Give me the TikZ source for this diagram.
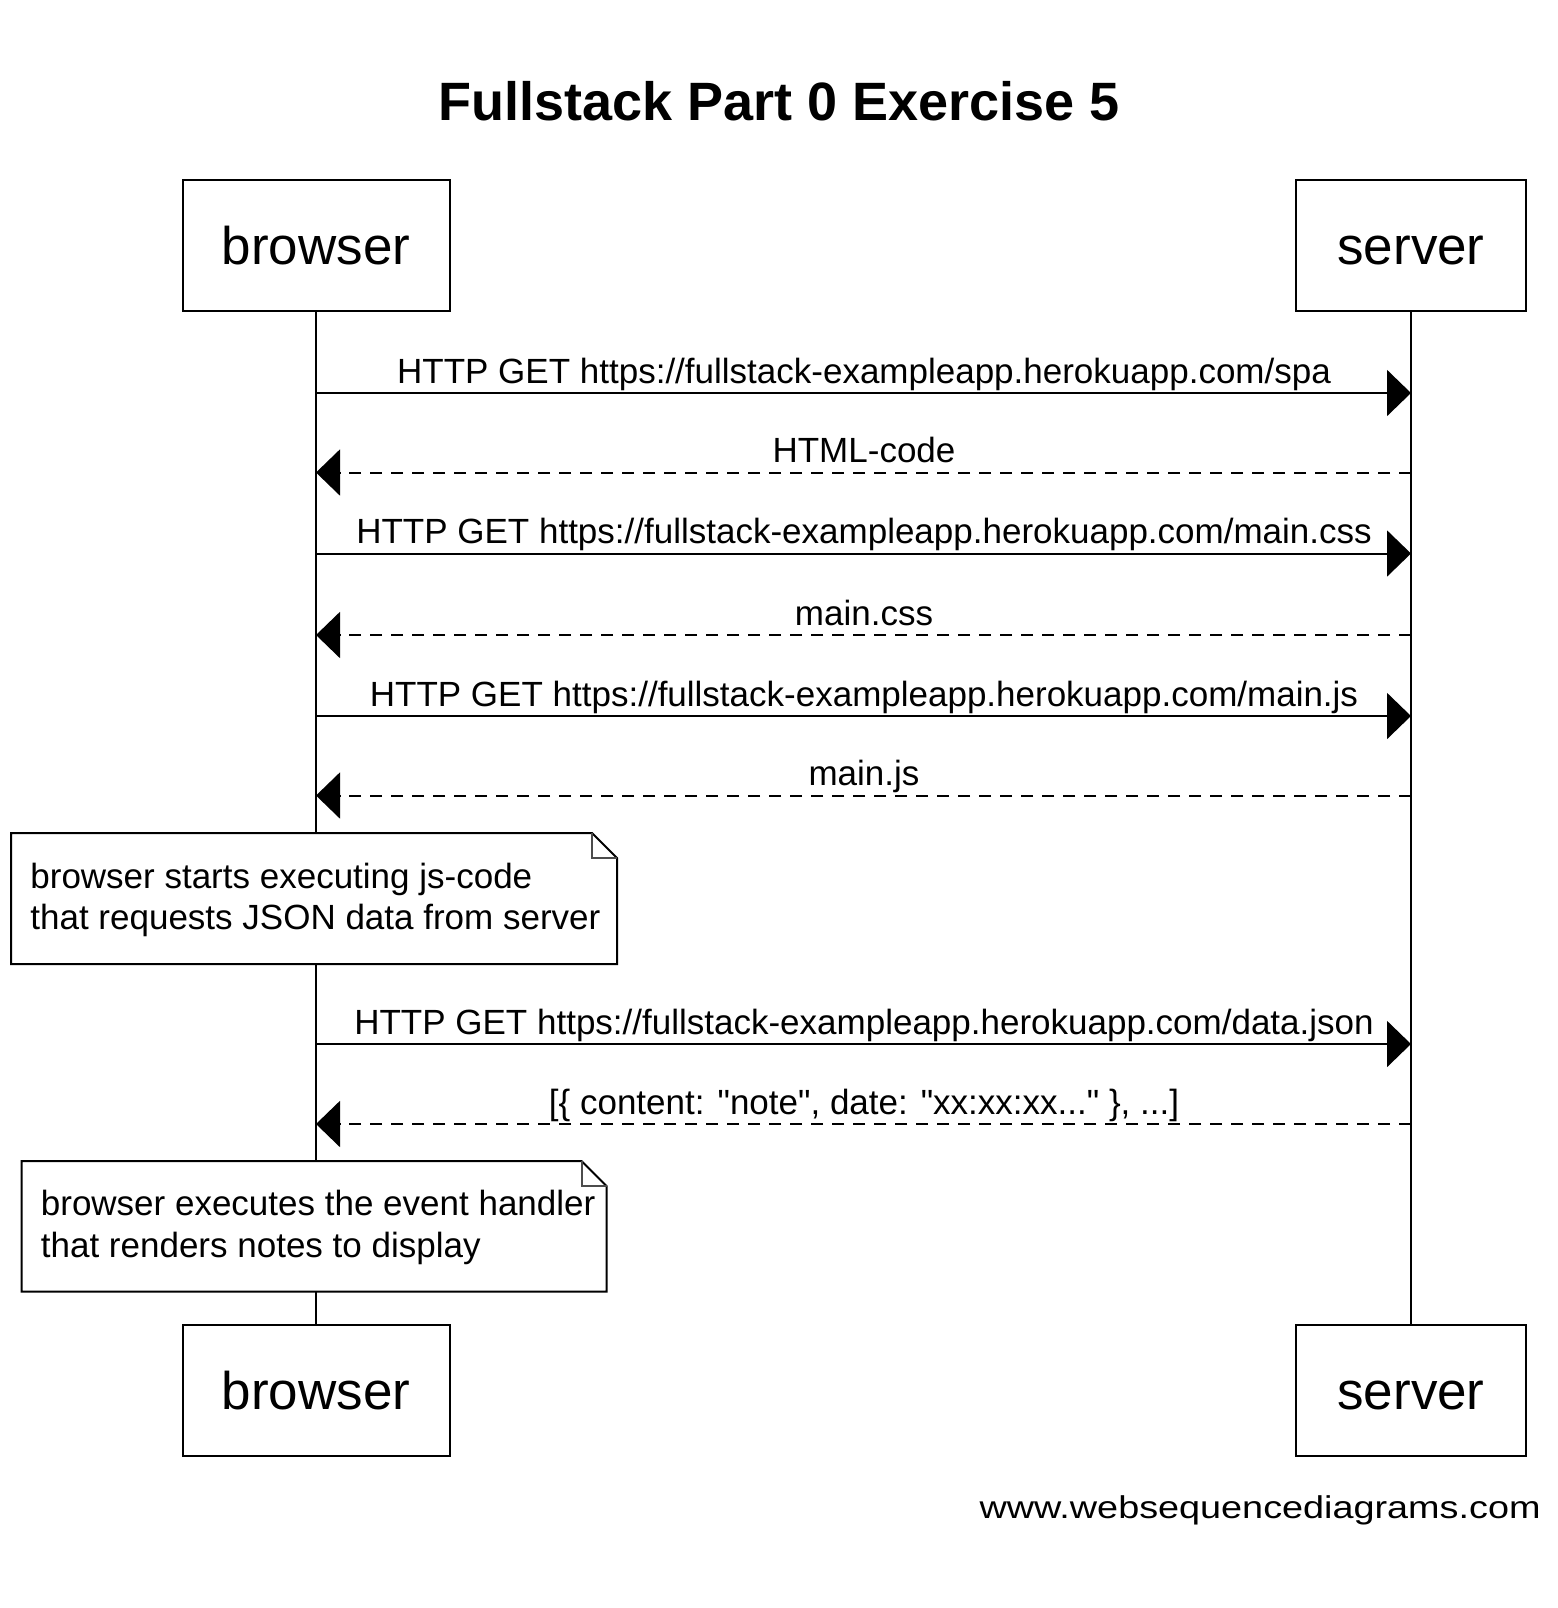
\documentclass[tikz,border=0pt]{standalone}
\usepackage{fontspec}
\setmainfont{Liberation Sans}
\newfontfamily\rawfont[Ligatures=TeXOff]{Liberation Sans}
\newfontfamily\footfont[FakeStretch=1.2]{Liberation Sans}
\usetikzlibrary{arrows.meta}
\begin{document}
\begin{tikzpicture}[x=0.5pt,y=-0.5pt,
  actor/.style={draw, line width=1pt, fill=white, inner sep=0pt,
    minimum height=65.5pt, text height=18.5pt, text depth=0pt,
    font=\fontsize{26.5}{30}\selectfont},
  lifeline/.style={line width=1pt},
  msglabel/.style={anchor=base, inner sep=0pt, font=\fontsize{17.5}{20}\selectfont},
  notetext/.style={anchor=base west, inner sep=0pt, font=\fontsize{17.5}{20}\selectfont},
  notebox/.style={draw, line width=1pt, fill=white, line join=miter},
  call/.style={line width=1pt, -{Triangle[length=12pt,width=23pt]}},
  reply/.style={line width=1pt, dash pattern=on 6pt off 4.5pt, -{Triangle[length=12pt,width=23pt]}},
]
\useasboundingbox (0,0) rectangle (1558,1608);

% title
\node[anchor=base, inner sep=0pt, font=\fontsize{27}{30}\selectfont\bfseries] (title) at (779,120) {Fullstack Part 0 Exercise 5};

% actors
\node[actor, minimum width=133.5pt] (bt) at (316,245.5) {browser};
\node[actor, minimum width=115pt] (st) at (1411,245.5) {server};
\node[actor, minimum width=133.5pt] (bb) at (316,1390.5) {browser};
\node[actor, minimum width=115pt] (sb) at (1411,1390.5) {server};

% lifelines
\draw[lifeline] (bt.south) -- (bb.north);
\draw[lifeline] (st.south) -- (sb.north);

% message anchor points
\foreach \i/\y in {1/393,2/472.5,3/553.5,4/635,5/716,6/795.5,7/1044,8/1124}{
  \coordinate (b\i) at (316,\y);
  \coordinate (s\i) at (1411,\y);
}

\draw[call] (b1) -- (s1);
\node[msglabel] (l1) at (864,383) {HTTP GET https://fullstack-exampleapp.herokuapp.com/spa};
\draw[reply] (s2) -- (b2);
\node[msglabel] (l2) at (864,462.5) {HTML-code};
\draw[call] (b3) -- (s3);
\node[msglabel] (l3) at (864,543.5) {HTTP GET https://fullstack-exampleapp.herokuapp.com/main.css};
\draw[reply] (s4) -- (b4);
\node[msglabel] (l4) at (864,625) {main.css};
\draw[call] (b5) -- (s5);
\node[msglabel] (l5) at (864,706) {HTTP GET https://fullstack-exampleapp.herokuapp.com/main.js};
\draw[reply] (s6) -- (b6);
\node[msglabel] (l6) at (864,785.5) {main.js};

% note 1
\path[notebox] (11,833) -- (592,833) -- (617,858) -- (617,964) -- (11,964) -- cycle;
\draw[line width=1pt, draw=black!70] (592,833) -- (592,858) -- (617,858);
\node[notetext] (n1a) at (30,888) {browser starts executing js-code};
\node[notetext] (n1b) at (30,929) {that requests JSON data from server};

\draw[call] (b7) -- (s7);
\node[msglabel] (l7) at (864,1034) {HTTP GET https://fullstack-exampleapp.herokuapp.com/data.json};
\draw[reply] (s8) -- (b8);
\node[msglabel, font=\rawfont\fontsize{17.5}{20}\selectfont] (l8) at (864,1114) {[\{ content: "note", date: "xx:xx:xx..." \}, ...]};

% note 2
\path[notebox] (21.5,1161) -- (581.5,1161) -- (606.5,1186) -- (606.5,1291.5) -- (21.5,1291.5) -- cycle;
\draw[line width=1pt, draw=black!70] (581.5,1161) -- (581.5,1186) -- (606.5,1186);
\node[notetext] (n2a) at (40.5,1215) {browser executes the event handler};
\node[notetext] (n2b) at (40.5,1257) {that renders notes to display};

% footer
\node[anchor=base east, inner sep=0pt, font=\footfont\fontsize{15.75}{18}\selectfont] (foot) at (1541,1518) {www.websequencediagrams.com};
\end{tikzpicture}
\end{document}
